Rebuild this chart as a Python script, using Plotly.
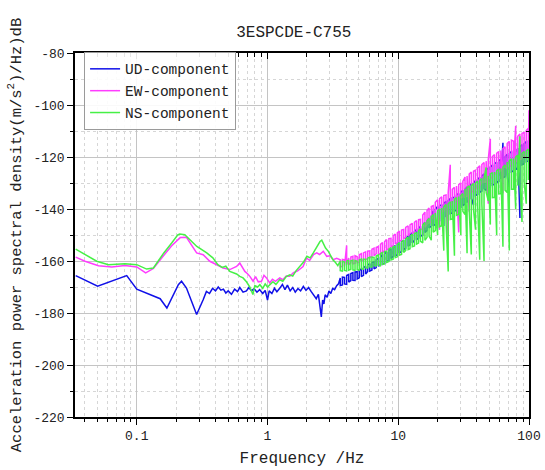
import math
import plotly.graph_objects as go

# ---------------- data ----------------
SERIES_NAMES = ["UD-component", "EW-component", "NS-component"]

# low / mid frequency part (Hz, dB)
UD_LOW_F = [0.0341, 0.0502, 0.0838, 0.100, 0.151, 0.170, 0.208, 0.220, 0.240, 0.287,
            0.322, 0.341, 0.36, 0.38, 0.40, 0.42, 0.44, 0.46, 0.48, 0.50,
            0.53, 0.56, 0.59, 0.614, 0.65, 0.69, 0.72, 0.755, 0.79, 0.83,
            0.87, 0.92, 0.96, 1.00, 1.03, 1.08, 1.13, 1.18, 1.24, 1.30,
            1.36, 1.42, 1.49, 1.56, 1.63, 1.71, 1.79, 1.88, 1.97, 2.06,
            2.16, 2.26, 2.36, 2.45, 2.52, 2.58, 2.64, 2.70, 2.76, 2.86,
            2.95, 3.05, 3.15, 3.26, 3.38, 3.49]
UD_LOW_V = [-165.6, -169.7, -165.6, -170.8, -174.5, -178.1, -169.1, -167.8, -170.4, -180.6,
            -174.9, -171.7, -172.5, -170.5, -171.5, -170.0, -171.2, -170.8, -172.3, -171.5,
            -172.8, -170.8, -171.8, -170.2, -172.0, -171.5, -170.2, -171.5, -170.6, -172.0,
            -171.0, -172.5, -171.3, -175.0, -171.5, -172.5, -170.5, -171.8, -170.5, -169.0,
            -171.0, -169.3, -171.5, -170.2, -172.0, -170.6, -171.5, -169.8, -171.3, -170.2,
            -171.8, -173.0, -174.5, -172.8, -177.5, -181.5, -175.0, -176.5, -173.0, -174.0,
            -171.5, -172.5, -170.5, -171.0, -169.5, -168.8]

EW_LOW_F = [0.0341, 0.0402, 0.0509, 0.0644, 0.0813, 0.100, 0.117, 0.134, 0.160, 0.185,
            0.215, 0.240, 0.287, 0.322, 0.362, 0.408, 0.458, 0.515, 0.55, 0.58,
            0.614, 0.64, 0.671, 0.70, 0.733, 0.776, 0.81, 0.85, 0.90, 0.94,
            0.982, 1.04, 1.09, 1.15, 1.24, 1.31, 1.39, 1.48, 1.58, 1.70,
            1.87, 1.99, 2.10, 2.25, 2.38, 2.50, 2.67, 2.84, 3.00, 3.19,
            3.38]
EW_LOW_V = [-158.5, -160.1, -161.8, -162.3, -161.7, -162.3, -164.6, -162.9, -158.0, -154.1,
            -151.0, -150.9, -156.9, -157.6, -160.1, -161.4, -162.7, -163.3, -162.5, -162.1,
            -160.8, -162.5, -164.0, -164.8, -165.9, -167.8, -166.0, -168.0, -167.8, -165.5,
            -166.5, -168.4, -167.0, -167.8, -166.5, -167.2, -165.8, -165.9, -164.5, -163.8,
            -162.1, -158.8, -159.8, -157.5, -156.9, -157.5, -156.3, -158.2, -158.0, -159.5,
            -159.0]

NS_LOW_F = [0.0341, 0.0494, 0.0607, 0.0813, 0.100, 0.119, 0.134, 0.161, 0.185, 0.206,
            0.213, 0.233, 0.288, 0.343, 0.382, 0.417, 0.45, 0.48, 0.515, 0.55,
            0.58, 0.614, 0.65, 0.69, 0.733, 0.773, 0.80, 0.84, 0.874, 0.92,
            0.96, 1.00, 1.04, 1.10, 1.16, 1.24, 1.31, 1.39, 1.48, 1.56,
            1.65, 1.77, 1.88, 2.00, 2.12, 2.24, 2.35, 2.45, 2.52, 2.60,
            2.67, 2.78, 2.92, 3.04, 3.16, 3.30, 3.45]
NS_LOW_V = [-155.4, -160.1, -161.4, -161.1, -161.4, -163.1, -162.7, -156.9, -153.1, -149.9,
            -149.6, -149.9, -154.4, -156.9, -158.8, -161.4, -162.5, -162.0, -164.0, -164.5,
            -165.0, -165.9, -166.5, -168.0, -170.0, -172.9, -169.5, -170.0, -169.1, -170.5,
            -168.8, -170.0, -169.1, -168.0, -169.0, -167.2, -167.8, -166.0, -165.3, -165.8,
            -163.8, -162.1, -160.5, -158.2, -158.8, -156.9, -155.2, -153.5, -152.5, -152.0,
            -153.1, -155.0, -156.3, -158.0, -159.5, -160.5, -161.8]

# high frequency part: shared frequency list (Hz); at each frequency two values
# were read (one edge of the noisy band and the opposite edge / spike tip)
F_HI = [3.60, 3.74, 3.88, 4.03, 4.18, 4.34, 4.50, 4.67, 4.85, 5.03,
        5.22, 5.42, 5.63, 5.84, 6.06, 6.29, 6.53, 6.78, 7.04, 7.31,
        7.58, 7.87, 8.17, 8.48, 8.80, 9.14, 9.48, 9.84, 10.2, 10.6,
        11.0, 11.4, 11.9, 12.3, 12.8, 13.3, 13.8, 14.3, 14.8, 15.4,
        16.0, 16.6, 17.2, 17.9, 18.5, 19.2, 20.0, 20.7, 21.5, 22.3,
        23.2, 24.1, 25.0, 25.9, 26.9, 27.9, 29.0, 30.1, 31.2, 32.4,
        33.6, 34.9, 36.2, 37.6, 39.0, 40.5, 42.0, 43.6, 45.3, 47.0,
        48.8, 50.6, 52.5, 54.5, 56.6, 58.7, 60.9, 63.2, 65.6, 68.1,
        70.7, 73.4, 76.2, 79.1, 82.1, 85.2, 88.4, 91.8, 95.3, 98.9,
        100.0]

UD_HI_A = [-166.5, -169.2, -166.3, -169.0, -165.2, -167.5, -164.5, -167.5, -164.1, -166.5,
           -163.0, -165.5, -162.0, -164.0, -161.0, -163.5, -160.3, -162.5, -159.0, -161.5,
           -157.4, -160.9, -156.8, -159.8, -155.2, -158.2, -154.1, -157.6, -153.0, -156.4,
           -152.2, -155.1, -150.5, -153.8, -149.2, -152.0, -147.9, -151.3, -146.6, -150.0,
           -145.1, -148.3, -143.4, -146.6, -140.7, -145.9, -139.0, -144.5, -138.5, -146.5,
           -137.0, -142.5, -136.0, -141.5, -135.5, -140.5, -134.0, -139.4, -132.8, -138.1,
           -131.5, -136.9, -130.3, -138.5, -129.0, -134.4, -127.8, -133.1, -126.5, -132.9,
           -124.3, -131.7, -123.1, -130.5, -122.0, -129.4, -120.8, -114.5, -127.6, -119.0,
           -135.0, -117.9, -125.4, -116.8, -124.3, -143.5, -115.2, -122.6, -114.1, -121.5,
           -114.0]
UD_HI_B = [-169.4, -166.2, -168.8, -165.6, -168.1, -164.8, -167.4, -164.2, -166.9, -163.6,
           -166.0, -162.6, -165.0, -161.5, -163.9, -160.6, -163.0, -159.5, -162.0, -158.6,
           -161.3, -157.0, -160.3, -155.9, -159.0, -154.8, -158.0, -153.7, -156.9, -152.5,
           -155.6, -151.2, -154.3, -149.9, -153.1, -148.6, -151.8, -147.4, -150.5, -146.1,
           -149.0, -144.4, -147.3, -142.7, -146.5, -140.1, -144.8, -138.6, -143.8, -137.8,
           -142.8, -136.7, -141.8, -135.7, -140.8, -134.7, -139.8, -133.5, -138.7, -132.3,
           -137.3, -131.0, -136.0, -130.0, -134.8, -128.6, -133.6, -127.3, -132.2, -125.0,
           -132.0, -123.8, -130.8, -122.6, -129.8, -121.5, -128.5, -128.0, -119.8, -126.8,
           -118.5, -125.7, -117.6, -124.6, -116.5, -116.0, -123.0, -114.8, -121.8, -113.7,
           -120.0]

EW_HI_A = [-159.5, -162.0, -159.6, -154.0, -158.8, -160.7, -158.2, -160.9, -158.4, -160.5,
           -157.2, -159.3, -156.5, -159.1, -156.1, -158.4, -155.1, -157.2, -154.4, -157.5,
           -152.9, -156.0, -151.8, -155.3, -151.3, -154.2, -149.6, -152.9, -148.5, -152.0,
           -147.9, -151.0, -146.5, -149.4, -145.5, -149.0, -144.5, -148.0, -144.0, -148.0,
           -141.2, -145.9, -139.6, -144.9, -138.7, -143.3, -136.5, -148.0, -135.3, -140.7,
           -134.6, -150.0, -123.0, -138.3, -131.7, -136.6, -149.0, -129.9, -135.3, -127.7,
           -135.1, -141.0, -125.8, -133.2, -125.1, -132.0, -123.4, -129.8, -122.1, -129.5,
           -138.0, -113.0, -127.7, -119.1, -126.0, -117.9, -125.3, -134.0, -116.1, -124.5,
           -114.0, -123.4, -113.9, -108.0, -121.8, -111.2, -120.7, -110.6, -119.6, -109.0,
           -102.0]
EW_HI_B = [-162.3, -159.4, -162.0, -161.5, -161.4, -158.5, -161.1, -158.0, -160.6, -157.6,
           -160.1, -156.9, -159.4, -156.2, -158.7, -155.5, -158.0, -154.8, -157.3, -153.6,
           -156.8, -152.5, -155.7, -151.4, -154.6, -150.3, -153.5, -149.2, -152.4, -148.1,
           -151.4, -147.1, -150.4, -146.1, -149.4, -145.1, -148.4, -144.1, -147.5, -142.3,
           -147.0, -140.6, -145.4, -139.0, -143.9, -137.4, -142.3, -136.0, -141.1, -134.8,
           -139.9, -133.8, -138.6, -132.4, -137.5, -131.2, -130.6, -135.8, -129.4, -135.4,
           -127.3, -126.6, -133.5, -125.5, -132.3, -124.2, -131.1, -122.9, -129.8, -121.6,
           -121.0, -128.3, -119.8, -126.8, -118.6, -125.6, -117.5, -116.8, -123.9, -114.8,
           -123.6, -113.5, -122.6, -121.5, -112.0, -121.0, -110.9, -119.8, -109.8, -118.8,
           -118.5]

NS_HI_A = [-160.0, -163.9, -160.4, -163.8, -159.8, -163.2, -159.7, -163.6, -160.1, -163.5,
           -159.3, -163.1, -159.4, -162.7, -158.5, -162.3, -158.6, -161.9, -157.7, -162.0,
           -156.6, -161.1, -156.2, -160.2, -154.8, -159.3, -154.4, -158.4, -153.0, -157.5,
           -151.9, -155.9, -150.8, -155.3, -149.7, -154.2, -149.2, -153.1, -147.6, -153.0,
           -145.2, -150.9, -143.6, -152.0, -142.1, -148.3, -150.0, -140.0, -146.4, -156.0,
           -138.3, -164.0, -137.2, -143.7, -158.0, -135.6, -142.0, -150.0, -134.1, -142.1,
           -157.0, -131.1, -157.5, -130.2, -148.0, -129.3, -159.5, -128.3, -160.0, -124.0,
           -136.9, -146.0, -126.0, -135.5, -150.0, -124.6, -134.1, -154.5, -123.1, -133.7,
           -156.0, -120.7, -132.3, -140.0, -119.3, -112.0, -145.0, -117.9, -138.0, -117.0,
           -127.5]
NS_HI_B = [-163.7, -160.1, -163.6, -160.0, -163.5, -159.9, -163.4, -159.8, -163.3, -159.6,
           -163.0, -159.3, -162.6, -158.9, -162.2, -158.5, -161.8, -158.1, -161.5, -157.2,
           -161.3, -156.4, -160.5, -155.4, -159.6, -154.5, -158.7, -153.6, -157.8, -152.7,
           -156.7, -151.6, -155.6, -150.5, -154.5, -149.4, -153.5, -148.3, -152.4, -146.2,
           -152.0, -144.6, -150.4, -143.0, -148.9, -141.5, -140.8, -146.8, -139.6, -139.2,
           -145.1, -138.0, -144.0, -136.9, -136.3, -142.4, -135.2, -134.8, -140.9, -132.3,
           -131.8, -140.8, -131.0, -139.9, -130.0, -139.0, -129.0, -138.0, -128.2, -133.5,
           -127.2, -126.5, -135.6, -125.8, -125.3, -134.2, -124.4, -123.9, -132.8, -121.9,
           -121.5, -132.4, -120.6, -120.0, -131.0, -130.5, -118.6, -129.6, -117.6, -128.8,
           -117.0]

X_TICKS = [0.1, 1, 10, 100]
X_TICK_TEXT = ["0.1", "1", "10", "100"]
Y_TICKS = [-220, -200, -180, -160, -140, -120, -100, -80]
Y_TICK_TEXT = ["-220", "-200", "-180", "-160", "-140", "-120", "-100", "-80"]
X_RANGE = [0.0337, 100]
Y_RANGE = [-220, -80]

# ---------------- styling ----------------
COLORS = ["#1010e8", "#ff3cff", "#46f046"]
FONT = "Liberation Mono, DejaVu Sans Mono, monospace"
GRID_MAJOR = "#c4c4c4"
GRID_MINOR = "#d6d6d6"


def build(low_f, low_v, hi_a, hi_b):
    xs = list(low_f)
    ys = list(low_v)
    for f, a, b in zip(F_HI, hi_a, hi_b):
        xs += [f, f]
        ys += [a, b]
    return xs, ys


series = [
    build(UD_LOW_F, UD_LOW_V, UD_HI_A, UD_HI_B),
    build(EW_LOW_F, EW_LOW_V, EW_HI_A, EW_HI_B),
    build(NS_LOW_F, NS_LOW_V, NS_HI_A, NS_HI_B),
]

fig = go.Figure()
for name, (fx, fy), col in zip(SERIES_NAMES, series, COLORS):
    fig.add_trace(go.Scatter(x=fx, y=fy, mode="lines", name=name,
                             line=dict(color=col, width=1.5)))

# helper trace so the mirrored (top/right) axes get drawn
fig.add_trace(go.Scatter(x=[None], y=[None], xaxis="x2", yaxis="y2",
                         showlegend=False, hoverinfo="skip"))

xr = [math.log10(X_RANGE[0]), math.log10(X_RANGE[1])]

fig.update_layout(
    width=545, height=470,
    margin=dict(l=75, r=16, t=53, b=53, autoexpand=False),
    paper_bgcolor="white", plot_bgcolor="white",
    font=dict(family=FONT, color="#222222", size=13),
    title=dict(text="3ESPCDE-C755", x=0.482, xref="paper", xanchor="center",
               y=1 - 31 / 470, yref="container", yanchor="middle",
               font=dict(family=FONT, size=16, color="#222222")),
    showlegend=True,
    legend=dict(x=0.02, y=1.003, xanchor="left", yanchor="top",
                bgcolor="rgba(255,255,255,0.9)", bordercolor="#9a9a9a", borderwidth=1,
                font=dict(family=FONT, size=14.5, color="#222222"),
                tracegroupgap=0, itemwidth=30),
    xaxis=dict(type="log", range=xr, tickmode="array", tickvals=X_TICKS, ticktext=X_TICK_TEXT,
               ticks="outside", ticklen=6, tickwidth=1.2, tickcolor="black",
               showline=True, linecolor="black", linewidth=1.5, mirror=True,
               showgrid=True, gridcolor=GRID_MAJOR, gridwidth=1, zeroline=False,
               tickfont=dict(family=FONT, size=13, color="#222222"),
               minor=dict(dtick="D1", ticks="outside", ticklen=3.5, tickwidth=1, tickcolor="black",
                          showgrid=True, gridcolor=GRID_MINOR, griddash="dot", gridwidth=1),
               title=dict(text="Frequency /Hz", standoff=8,
                          font=dict(family=FONT, size=16, color="#222222"))),
    yaxis=dict(range=Y_RANGE, tickmode="array", tickvals=Y_TICKS, ticktext=Y_TICK_TEXT,
               ticks="outside", ticklen=6, tickwidth=1.2, tickcolor="black",
               showline=True, linecolor="black", linewidth=1.5, mirror=True,
               showgrid=True, gridcolor=GRID_MAJOR, gridwidth=1, zeroline=False,
               tickfont=dict(family=FONT, size=13, color="#222222"),
               minor=dict(dtick=10, tick0=0, ticks="outside", ticklen=3.5, tickwidth=1, tickcolor="black",
                          showgrid=True, gridcolor=GRID_MINOR, griddash="dot", gridwidth=1),
               title=dict(text="Acceleration power spectral density(m/s<sup>2</sup>)/Hz)dB",
                          standoff=8, font=dict(family=FONT, size=15.5, color="#222222"))),
    xaxis2=dict(type="log", range=xr, overlaying="x", side="top", anchor="y",
                tickmode="array", tickvals=X_TICKS, showticklabels=False,
                ticks="inside", ticklen=6, tickwidth=1.2, tickcolor="black",
                showgrid=False, showline=False, zeroline=False,
                minor=dict(dtick="D1", ticks="inside", ticklen=3.5, tickwidth=1, tickcolor="black",
                           showgrid=False)),
    yaxis2=dict(range=Y_RANGE, overlaying="y", side="right", anchor="x",
                tickmode="array", tickvals=Y_TICKS, showticklabels=False,
                ticks="inside", ticklen=6, tickwidth=1.2, tickcolor="black",
                showgrid=False, showline=False, zeroline=False,
                minor=dict(dtick=10, tick0=0, ticks="inside", ticklen=3.5, tickwidth=1, tickcolor="black",
                           showgrid=False)),
)

fig.write_html("out.html", config={"displayModeBar": False},
               post_script="document.body.style.margin='0';")
